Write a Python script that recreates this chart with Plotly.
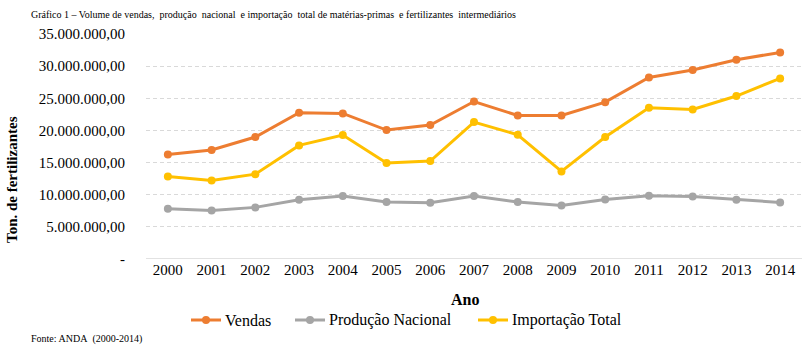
import plotly.graph_objects as go

anos = [str(a) for a in range(2000, 2015)]
vendas = [16.27, 16.95, 18.97, 22.75, 22.65, 20.06, 20.84, 24.5, 22.33, 22.33, 24.4, 28.24, 29.39, 31.0, 32.13]
producao = [7.82, 7.56, 8.03, 9.22, 9.8, 8.86, 8.76, 9.8, 8.86, 8.34, 9.27, 9.84, 9.74, 9.22, 8.8]
importacao = [12.85, 12.22, 13.2, 17.67, 19.28, 14.93, 15.24, 21.3, 19.33, 13.62, 18.97, 23.53, 23.27, 25.35, 28.09]
vendas = [v * 1e6 for v in vendas]
producao = [v * 1e6 for v in producao]
importacao = [v * 1e6 for v in importacao]

series_names = ["Vendas", "Produção Nacional", "Importação Total"]
series_colors = ["#ED7D31", "#A5A5A5", "#FFC000"]

tick_vals = [0, 5e6, 10e6, 15e6, 20e6, 25e6, 30e6, 35e6]
tick_text = ["-", "5.000.000,00", "10.000.000,00", "15.000.000,00", "20.000.000,00",
             "25.000.000,00", "30.000.000,00", "35.000.000,00"]

W, H = 807, 350
L, R, T, B = 146, 5, 34, 91
PW, PH = W - L - R, H - T - B

def px(x):
    return (x - L) / PW

def py(y):
    return (H - B - y) / PH

FONT = "Liberation Serif"

fig = go.Figure()
for name, vals, col in zip(series_names, [vendas, producao, importacao], series_colors):
    fig.add_trace(go.Scatter(x=anos, y=vals, name=name, mode="lines+markers",
                             line=dict(color=col, width=3),
                             marker=dict(color=col, size=8), showlegend=False))

S = "\u00a0"
title_txt = ("Gráfico 1 – Volume de vendas," + S + " produção" + S + " nacional" + S + " e importação" + S +
             " total de matérias-primas" + S + " e fertilizantes" + S + " intermediários")

shapes = [dict(type="line", xref="paper", yref="y", x0=0, x1=1, y0=0, y1=0,
               line=dict(color="#d9d9d9", width=1.5))]
annotations = [
    dict(text=title_txt,
         xref="paper", yref="paper", x=px(29), y=py(14), xanchor="left", yanchor="middle",
         showarrow=False, font=dict(size=10, family=FONT)),
    dict(text="Fonte: ANDA" + S + " (2000-2014)", xref="paper", yref="paper", x=px(29), y=py(339),
         xanchor="left", yanchor="middle", showarrow=False, font=dict(size=10, family=FONT)),
    dict(text="<b>Ton. de fertilizantes</b>", xref="paper", yref="paper", x=px(12), y=py(180),
         xanchor="center", yanchor="middle", textangle=-90, showarrow=False,
         font=dict(size=15, family=FONT)),
    dict(text="<b>Ano</b>", xref="paper", yref="paper", x=px(465), y=py(299),
         xanchor="center", yanchor="middle", showarrow=False,
         font=dict(size=16, family=FONT)),
]

# legend (drawn manually to match the reference spacing)
leg_y = 320
leg_starts = [191, 295, 478]
for name, col, x0 in zip(series_names, series_colors, leg_starts):
    shapes.append(dict(type="line", xref="paper", yref="paper", x0=px(x0), x1=px(x0 + 30),
                       y0=py(leg_y), y1=py(leg_y), line=dict(color=col, width=3)))
    xc = x0 + 15
    shapes.append(dict(type="circle", xref="paper", yref="paper", x0=px(xc - 4), x1=px(xc + 4),
                       y0=py(leg_y - 4), y1=py(leg_y + 4), fillcolor=col, line=dict(width=0)))
    annotations.append(dict(text=name, xref="paper", yref="paper", x=px(x0 + 32), y=py(leg_y),
                            xanchor="left", yanchor="middle", showarrow=False,
                            font=dict(size=16, family=FONT)))

fig.update_layout(
    width=W, height=H,
    margin=dict(l=L, r=R, t=T, b=B),
    paper_bgcolor="white", plot_bgcolor="white",
    font=dict(family=FONT, color="black", size=15),
    showlegend=False,
    xaxis=dict(type="category", range=[-0.5, 14.5], showgrid=False, zeroline=False,
               showline=False, ticks="", tickfont=dict(size=15, family=FONT)),
    yaxis=dict(range=[0, 35e6], tickvals=tick_vals, ticktext=tick_text,
               showgrid=True, gridcolor="#d9d9d9", griddash="4px,3px", gridwidth=1,
               zeroline=False, showline=False, ticks="", ticklabelstandoff=20,
               tickfont=dict(size=15, family=FONT)),
    shapes=shapes,
    annotations=annotations,
)

fig.write_html("out.html")
